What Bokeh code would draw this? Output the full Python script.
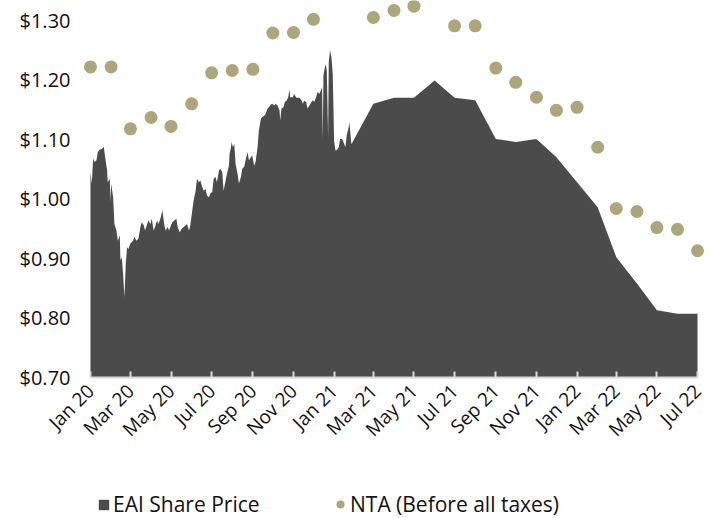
import pandas as pd
from bokeh.plotting import figure
from bokeh.layouts import column
from bokeh.models import (Range1d, FixedTicker, NumeralTickFormatter, DatetimeTickFormatter,
                          Legend, LegendItem, ColumnDataSource)
from bokeh.embed import file_html
from bokeh.resources import INLINE
from math import pi

# ---------------- data ----------------
share_dates = [
    "2020-01-01", "2020-01-03", "2020-01-05", "2020-01-07", "2020-01-10", "2020-01-12", "2020-01-15",
    "2020-01-18", "2020-01-21", "2020-01-23", "2020-01-26", "2020-01-27", "2020-01-30", "2020-01-31",
    "2020-02-01", "2020-02-04", "2020-02-06", "2020-02-09", "2020-02-11", "2020-02-14", "2020-02-15",
    "2020-02-17", "2020-02-19", "2020-02-21", "2020-02-23", "2020-02-25", "2020-02-27", "2020-03-01",
    "2020-03-05", "2020-03-07", "2020-03-10", "2020-03-13", "2020-03-16", "2020-03-18", "2020-03-21",
    "2020-03-23", "2020-03-28", "2020-03-31", "2020-04-02", "2020-04-05", "2020-04-07", "2020-04-10",
    "2020-04-12", "2020-04-15", "2020-04-18", "2020-04-21", "2020-04-23", "2020-04-26", "2020-04-28",
    "2020-05-01", "2020-05-03", "2020-05-06", "2020-05-09", "2020-05-11", "2020-05-14", "2020-05-17",
    "2020-05-20", "2020-05-25", "2020-05-28", "2020-05-30", "2020-06-02", "2020-06-04", "2020-06-07",
    "2020-06-09", "2020-06-12", "2020-06-14", "2020-06-17", "2020-06-19", "2020-06-22", "2020-06-24",
    "2020-06-27", "2020-06-29", "2020-07-02", "2020-07-04", "2020-07-07", "2020-07-09", "2020-07-12",
    "2020-07-14", "2020-07-17", "2020-07-19", "2020-07-22", "2020-07-24", "2020-07-27", "2020-07-28",
    "2020-07-30", "2020-07-31", "2020-08-02", "2020-08-04", "2020-08-06", "2020-08-09", "2020-08-11",
    "2020-08-14", "2020-08-16", "2020-08-19", "2020-08-21", "2020-08-24", "2020-08-26", "2020-08-29",
    "2020-08-31", "2020-09-03", "2020-09-05", "2020-09-08", "2020-09-10", "2020-09-13", "2020-09-15",
    "2020-09-18", "2020-09-20", "2020-09-23", "2020-09-25", "2020-09-28", "2020-09-30", "2020-10-03",
    "2020-10-05", "2020-10-08", "2020-10-11", "2020-10-12", "2020-10-14", "2020-10-17", "2020-10-19",
    "2020-10-22", "2020-10-24", "2020-10-26", "2020-10-27", "2020-10-31", "2020-11-02", "2020-11-05",
    "2020-11-10", "2020-11-13", "2020-11-15", "2020-11-17", "2020-11-20", "2020-11-22", "2020-11-25",
    "2020-11-28", "2020-11-30", "2020-12-02", "2020-12-05", "2020-12-07", "2020-12-10", "2020-12-13",
    "2020-12-14", "2020-12-15", "2020-12-16", "2020-12-19", "2020-12-21", "2020-12-23", "2020-12-24",
    "2020-12-26", "2020-12-28", "2020-12-30", "2020-12-31", "2021-01-01", "2021-01-03", "2021-01-05",
    "2021-01-08", "2021-01-10", "2021-01-13", "2021-01-15", "2021-01-18", "2021-01-20", "2021-01-23",
    "2021-01-24", "2021-01-27",
    "2021-03-01", "2021-04-01", "2021-05-01", "2021-06-01", "2021-07-01", "2021-08-01", "2021-09-01",
    "2021-10-01", "2021-11-01", "2021-12-01", "2022-01-01", "2022-02-01", "2022-03-01", "2022-04-01",
    "2022-05-01", "2022-06-01", "2022-07-01",
]
share_price = [
    1.045, 1.026, 1.068, 1.062, 1.065, 1.079, 1.083,
    1.084, 1.088, 1.070, 1.048, 1.028, 1.034, 0.995,
    1.026, 1.003, 0.958, 0.947, 0.930, 0.939, 0.897,
    0.902, 0.874, 0.835, 0.891, 0.919, 0.916, 0.925,
    0.930, 0.936, 0.930, 0.933, 0.953, 0.961, 0.956,
    0.947, 0.964, 0.958, 0.967, 0.947, 0.953, 0.964,
    0.958, 0.967, 0.981, 0.956, 0.947, 0.953, 0.947,
    0.956, 0.961, 0.964, 0.967, 0.953, 0.944, 0.950,
    0.953, 0.958, 0.947, 0.956, 0.981, 0.998, 1.014,
    1.034, 1.028, 1.031, 1.020, 1.014, 1.017, 1.006,
    1.003, 1.009, 1.012, 1.034, 1.037, 1.028, 1.048,
    1.051, 1.045, 1.014, 1.031, 1.042, 1.056, 1.076,
    1.087, 1.096, 1.087, 1.093, 1.059, 1.042, 1.026,
    1.037, 1.051, 1.054, 1.065, 1.079, 1.065, 1.070,
    1.073, 1.056, 1.062, 1.087, 1.115, 1.135, 1.138,
    1.140, 1.143, 1.152, 1.154, 1.159, 1.160, 1.157,
    1.160, 1.157, 1.149, 1.132, 1.152, 1.154, 1.163,
    1.166, 1.171, 1.184, 1.171, 1.171, 1.177, 1.170,
    1.170, 1.166, 1.160, 1.165, 1.163, 1.152, 1.157,
    1.163, 1.166, 1.163, 1.171, 1.180, 1.177, 1.185,
    1.188, 1.100, 1.208, 1.227, 1.216, 1.104, 1.230,
    1.250, 1.238, 1.210, 1.154, 1.098, 1.082, 1.082,
    1.087, 1.101, 1.101, 1.096, 1.087, 1.107, 1.121,
    1.129, 1.092,
    1.160, 1.170, 1.170, 1.199, 1.170, 1.166, 1.101,
    1.096, 1.101, 1.070, 1.028, 0.986, 0.902, 0.858,
    0.813, 0.807, 0.807,
]

nta_months = [
    "2020-01-01", "2020-02-01", "2020-03-01", "2020-04-01", "2020-05-01", "2020-06-01",
    "2020-07-01", "2020-08-01", "2020-09-01", "2020-10-01", "2020-11-01", "2020-12-01",
    "2021-03-01", "2021-04-01", "2021-05-01", "2021-07-01", "2021-08-01", "2021-09-01",
    "2021-10-01", "2021-11-01", "2021-12-01", "2022-01-01", "2022-02-01", "2022-03-01",
    "2022-04-01", "2022-05-01", "2022-06-01", "2022-07-01",
]
nta_values = [
    1.222, 1.222, 1.118, 1.137, 1.122, 1.160,
    1.212, 1.216, 1.218, 1.279, 1.280, 1.302,
    1.305, 1.317, 1.324, 1.291, 1.291, 1.220,
    1.196, 1.171, 1.149, 1.154, 1.087, 0.984,
    0.979, 0.952, 0.949, 0.913,
]

tick_months = ["2020-01-01", "2020-03-01", "2020-05-01", "2020-07-01", "2020-09-01", "2020-11-01",
               "2021-01-01", "2021-03-01", "2021-05-01", "2021-07-01", "2021-09-01", "2021-11-01",
               "2022-01-01", "2022-03-01", "2022-05-01", "2022-07-01"]
y_ticks = [0.70, 0.80, 0.90, 1.00, 1.10, 1.20, 1.30]

AREA_COLOR = "#4b4b4b"
DOT_COLOR = "#aba67b"
FONT = "Open Sans"

# ---------------- chart ----------------
def ms(s):
    return pd.Timestamp(s).value / 1e6

DAY = 86400000.0
x_start = ms("2020-01-01") - 15.0 * DAY
x_end = ms("2022-07-01") + 16.5 * DAY

share_src = ColumnDataSource(dict(x=pd.to_datetime(share_dates), y=share_price))
nta_src = ColumnDataSource(dict(x=pd.to_datetime(nta_months), y=nta_values))

p = figure(width=718, height=460, output_backend="svg", toolbar_location=None,
           x_axis_type="datetime",
           x_range=Range1d(x_start, x_end), y_range=Range1d(0.70, 1.3336),
           min_border_left=80, min_border_right=10, min_border_top=0, min_border_bottom=83)
p.outline_line_color = None
p.xgrid.visible = False
p.ygrid.visible = False

p.varea(x="x", y1=0.70, y2="y", source=share_src, fill_color=AREA_COLOR)
p.scatter(x="x", y="y", source=nta_src, size=13, fill_color=DOT_COLOR, line_color=None)

xa = p.xaxis[0]
xa.ticker = FixedTicker(ticks=[ms(t) for t in tick_months])
fmt = "%b %y"
xa.formatter = DatetimeTickFormatter(milliseconds=fmt, seconds=fmt, minsec=fmt, minutes=fmt,
                                     hourmin=fmt, hours=fmt, days=fmt, months=fmt, years=fmt)
xa.bounds = (ms("2020-01-01"), ms("2022-07-01"))
xa.major_label_orientation = pi / 4
xa.major_label_text_font = FONT
xa.major_label_text_font_size = "19px"
xa.major_label_text_color = "#111111"
xa.major_label_standoff = 10
xa.axis_line_color = "#d9d9d9"
xa.axis_line_width = 2
xa.major_tick_line_color = "#d9d9d9"
xa.major_tick_line_width = 2
xa.major_tick_in = 6
xa.major_tick_out = 0
xa.minor_tick_line_color = None

ya = p.yaxis[0]
ya.ticker = FixedTicker(ticks=y_ticks)
ya.formatter = NumeralTickFormatter(format="$0.00")
ya.major_label_text_font = FONT
ya.major_label_text_font_size = "20px"
ya.major_label_text_color = "#111111"
ya.axis_line_color = None
ya.major_tick_line_color = None
ya.minor_tick_line_color = None
ya.major_label_standoff = 4

# ---------------- legend strip ----------------
q = figure(width=718, height=58, output_backend="svg", toolbar_location=None,
           x_axis_type="datetime",
           x_range=Range1d(x_start, x_end), y_range=Range1d(0.70, 1.3336),
           x_axis_location=None, y_axis_location=None,
           min_border_left=0, min_border_right=0, min_border_top=0, min_border_bottom=0)
q.outline_line_color = None
q.xgrid.visible = False
q.ygrid.visible = False
# hidden copies of the two series, used only to draw the legend swatches
leg_area = q.varea(x="x", y1=0.70, y2="y", source=share_src, fill_color=AREA_COLOR, visible=False)
leg_dot = q.scatter(x="x", y="y", source=nta_src, size=13, fill_color=DOT_COLOR,
                    line_color=None, visible=False)

leg1 = Legend(items=[LegendItem(label="EAI Share Price", renderers=[leg_area])],
              location=(17, 0), orientation="horizontal",
              glyph_width=13, glyph_height=13, padding=0, margin=0, border_line_color=None,
              background_fill_alpha=0, label_text_font=FONT, label_text_font_size="21px",
              label_text_color="#111111", label_standoff=3)
leg2 = Legend(items=[LegendItem(label="NTA (Before all taxes)", renderers=[leg_dot])],
              location=(250, 0), orientation="horizontal",
              glyph_width=20, glyph_height=20, padding=0, margin=0, border_line_color=None,
              background_fill_alpha=0, label_text_font=FONT, label_text_font_size="21px",
              label_text_color="#111111", label_standoff=0)
q.add_layout(leg1, "center")
q.add_layout(leg2, "center")

layout = column(p, q, spacing=0)
open("out.html", "w").write(file_html(layout, INLINE))
